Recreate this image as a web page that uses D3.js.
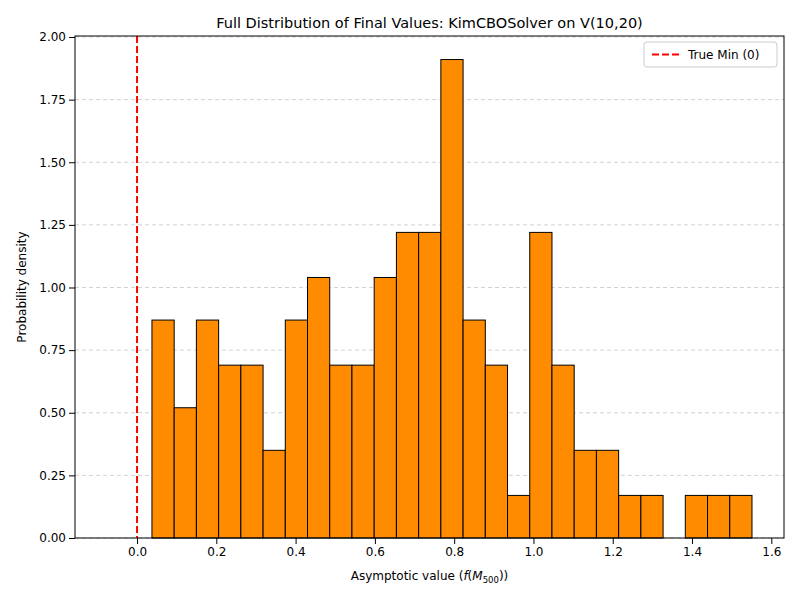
<!DOCTYPE html>
<html><head><meta charset="utf-8">
<script src="https://cdn.jsdelivr.net/npm/d3@7"></script>
<style>body{margin:0;background:#fff}text{font-family:"DejaVu Sans",sans-serif}</style>
</head><body><svg id="chart"></svg>
<script>
const width = 800, height = 600;
const margin = {top: 36, right: 16, bottom: 62, left: 75};

// histogram bins: first left edge and bin width, then densities
const binStart = -0.0745;
const binWidth = 0.05606;
const densities = [0, 0, 0.87, 0.52, 0.87, 0.69, 0.69, 0.35, 0.87, 1.04, 0.69, 0.69, 1.04, 1.22,
  1.22, 1.91, 0.87, 0.69, 0.17, 1.22, 0.69, 0.35, 0.35, 0.17, 0.17, 0, 0.17, 0.17, 0.17];
const xTicks = [0.0, 0.2, 0.4, 0.6, 0.8, 1.0, 1.2, 1.4, 1.6];
const yTicks = [0, 0.25, 0.5, 0.75, 1.0, 1.25, 1.5, 1.75, 2.0];
const trueMin = 0;

const svg = d3.select("#chart").attr("width", width).attr("height", height);

const x = d3.scaleLinear().domain([-0.1565, 1.632]).range([margin.left, width - margin.right]);
const y = d3.scaleLinear().domain([0, 2.004]).range([height - margin.bottom, margin.top]);

// grid
svg.append("g").selectAll("line").data(yTicks).enter().append("line")
  .attr("x1", margin.left).attr("x2", width - margin.right)
  .attr("y1", d => y(d)).attr("y2", d => y(d))
  .attr("stroke", "#b0b0b0").attr("stroke-width", 0.8).attr("stroke-dasharray", "4,3").attr("opacity", 0.7);

// bars
svg.append("g").selectAll("rect").data(densities).enter().append("rect")
  .attr("x", (d, i) => x(binStart + i * binWidth))
  .attr("width", (d, i) => x(binStart + (i + 1) * binWidth) - x(binStart + i * binWidth))
  .attr("y", d => y(d))
  .attr("height", d => y(0) - y(d))
  .attr("fill", "#ff8c00").attr("stroke", "#000").attr("stroke-width", 1);

// true min line
svg.append("line")
  .attr("x1", x(trueMin)).attr("x2", x(trueMin))
  .attr("y1", margin.top).attr("y2", height - margin.bottom)
  .attr("stroke", "red").attr("stroke-width", 2).attr("stroke-dasharray", "7,3");

// axes
const xAxis = svg.append("g").attr("transform", `translate(0,${height - margin.bottom})`)
  .call(d3.axisBottom(x).tickValues(xTicks).tickFormat(d3.format(".1f")).tickSizeOuter(0));
const yAxis = svg.append("g").attr("transform", `translate(${margin.left},0)`)
  .call(d3.axisLeft(y).tickValues(yTicks).tickFormat(d3.format(".2f")).tickSizeOuter(0));
[xAxis, yAxis].forEach(a => {
  a.selectAll("text").attr("font-size", 12).attr("fill", "#000").style("font-family", "DejaVu Sans");
  a.selectAll(".tick line").attr("stroke", "#000");
  a.select(".domain").remove();
});

// frame
svg.append("rect").attr("x", margin.left).attr("y", margin.top)
  .attr("width", width - margin.left - margin.right).attr("height", height - margin.top - margin.bottom)
  .attr("fill", "none").attr("stroke", "#000").attr("stroke-width", 1);

// title and labels
svg.append("text").attr("x", (margin.left + width - margin.right) / 2).attr("y", 28)
  .attr("text-anchor", "middle").attr("font-size", 14.5).text("Full Distribution of Final Values: KimCBOSolver on V(10,20)");
const xl = svg.append("text").attr("x", (margin.left + width - margin.right) / 2).attr("y", 580)
  .attr("text-anchor", "middle").attr("font-size", 12);
xl.append("tspan").text("Asymptotic value (");
xl.append("tspan").attr("font-style", "italic").text("f");
xl.append("tspan").text("(");
xl.append("tspan").attr("font-style", "italic").text("M");
xl.append("tspan").attr("font-size", 8.5).attr("dy", 3).text("500");
xl.append("tspan").attr("dy", -3).text("))");
svg.append("text").attr("transform", `translate(26,${(margin.top + height - margin.bottom) / 2}) rotate(-90)`)
  .attr("text-anchor", "middle").attr("font-size", 12).text("Probability density");

// legend
const lg = svg.append("g").attr("transform", `translate(${width - margin.right - 140},42)`);
lg.append("rect").attr("width", 133).attr("height", 25).attr("rx", 3)
  .attr("fill", "#fff").attr("fill-opacity", 0.8).attr("stroke", "#ccc");
lg.append("line").attr("x1", 8).attr("x2", 36).attr("y1", 12.5).attr("y2", 12.5)
  .attr("stroke", "red").attr("stroke-width", 2).attr("stroke-dasharray", "7,3");
lg.append("text").attr("x", 44).attr("y", 17).attr("font-size", 12).text("True Min (0)");
</script></body></html>
